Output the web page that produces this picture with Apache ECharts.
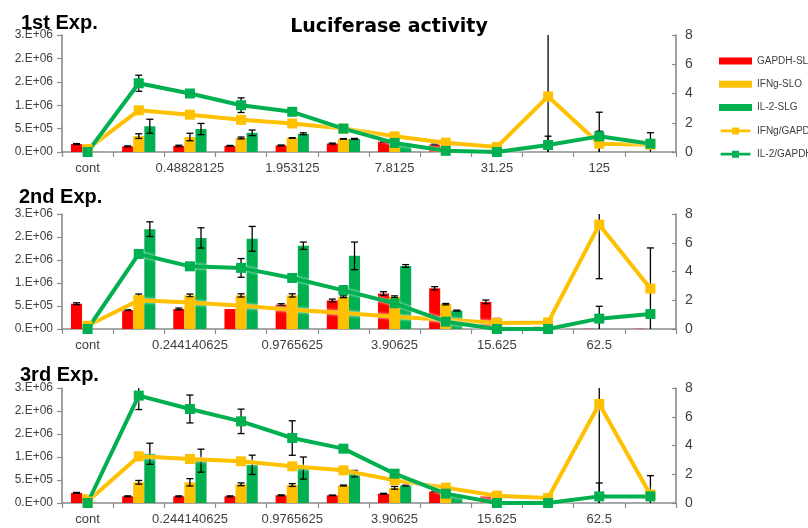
<!DOCTYPE html>
<html>
<head>
<meta charset="utf-8">
<script src="https://cdn.jsdelivr.net/npm/echarts@6/dist/echarts.min.js"></script>
<style>
  html, body { margin: 0; padding: 0; background: #fff; }
  #chart { width: 808px; height: 528px; }
</style>
</head>
<body>
<div id="chart"></div>
<script>
// Dilution series (categories) for each experiment
const categoriesExp1 = ['cont', '0.244140625', '0.48828125', '0.9765625', '1.953125', '3.90625',
  '7.8125', '15.625', '31.25', '62.5', '125', '250'];
const categoriesExp23 = ['cont', '0.1220703125', '0.244140625', '0.48828125', '0.9765625', '1.953125',
  '3.90625', '7.8125', '15.625', '31.25', '62.5', '125'];

// Left axis tick labels (0 .. 2.5E+06, step 5E+05, shown in 0-decimal scientific style)
const leftTickLabels = ['0.E+00', '5.E+05', '1.E+06', '2.E+06', '2.E+06', '3.E+06'];
const rightTickLabels = ['0', '2', '4', '6', '8'];

const seriesNames = ['GAPDH-SLR', 'IFNg-SLO', 'IL-2-SLG', 'IFNg/GAPDH', 'IL-2/GAPDH'];

// ---- 1st Exp. ----
const gapdh1     = [1.7e5, 1.2e5, 1.3e5, 1.3e5, 1.4e5, 1.8e5, 2.2e5, 1.6e5, 0, 0, 0, 0];
const gapdh1Err  = [0.1e5, 0.1e5, 0.15e5, 0.1e5, 0.1e5, 0.1e5, 0.1e5, 0.1e5, 0, 0, 0, 0];
const ifng1      = [1.5e5, 3.4e5, 3.2e5, 3.0e5, 3.0e5, 2.8e5, 1.4e5, 0.3e5, 0, 0, 0, 0];
const ifng1Err   = [0, 0.5e5, 0.8e5, 0.2e5, 0.05e5, 0.05e5, 0, 0, 0, 0, 0, 0];
const il2_1      = [0, 5.5e5, 4.9e5, 4.1e5, 3.9e5, 2.8e5, 1.4e5, 0.3e5, 0, 0, 0, 0];
const il2_1Err   = [0, 1.5e5, 1.2e5, 0.6e5, 0.2e5, 0.1e5, 0, 0, 0, 0, 0, 0];
const ifngRatio1    = [0.2, 2.85, 2.55, 2.2, 1.95, 1.6, 1.07, 0.64, 0.34, 3.8, 0.57, 0.5];
const ifngRatio1Err = [0, 0, 0, 0, 0, 0, 0, 0, 0, 4.5, 0.85, 0];
const il2Ratio1     = [0, 4.7, 4.0, 3.2, 2.75, 1.6, 0.62, 0.08, 0, 0.48, 1.07, 0.57];
const il2Ratio1Err  = [0, 0.55, 0, 0.5, 0, 0, 0, 0, 0, 0.6, 1.65, 0.75];

// ---- 2nd Exp. ----
const gapdh2     = [5.5e5, 4.1e5, 4.35e5, 4.35e5, 5.3e5, 6.2e5, 7.7e5, 8.85e5, 5.9e5, 0.3e5, 0.05e5, 0.05e5];
const gapdh2Err  = [0.2e5, 0.1e5, 0.2e5, 0, 0.2e5, 0.3e5, 0.4e5, 0.35e5, 0.4e5, 0.05e5, 0, 0];
const ifng2      = [0, 7.3e5, 7.3e5, 7.3e5, 7.3e5, 7.0e5, 7.0e5, 5.4e5, 2.2e5, 0, 0, 0];
const ifng2Err   = [0, 0.3e5, 0.3e5, 0.35e5, 0.35e5, 0.2e5, 0.2e5, 0.15e5, 0.1e5, 0, 0, 0];
const il2_2      = [0, 2.17e6, 1.98e6, 1.96e6, 1.81e6, 1.59e6, 1.37e6, 4.0e5, 0, 0, 0, 0];
const il2_2Err   = [0, 1.6e5, 2.2e5, 2.7e5, 0.8e5, 3.0e5, 0.3e5, 0.1e5, 0, 0, 0, 0];
const ifngRatio2    = [0.23, 2.0, 1.85, 1.62, 1.34, 1.11, 0.86, 0.65, 0.42, 0.46, 7.26, 2.81];
const ifngRatio2Err = [0, 0, 0, 0, 0, 0, 0, 0, 0, 0, 3.76, 2.83];
const il2Ratio2     = [0, 5.22, 4.36, 4.25, 3.55, 2.69, 1.79, 0.51, 0, 0, 0.72, 1.04];
const il2Ratio2Err  = [0, 0, 0, 0.65, 0, 0.3, 0, 0, 0, 0, 0.86, 0];

// ---- 3rd Exp. ----
const gapdh3     = [2.2e5, 1.45e5, 1.45e5, 1.45e5, 1.67e5, 1.67e5, 2.0e5, 2.5e5, 1.45e5, 0, 0, 0];
const gapdh3Err  = [0.1e5, 0.1e5, 0.1e5, 0.1e5, 0.1e5, 0.05e5, 0.1e5, 0.05e5, 0, 0, 0, 0];
const ifng3      = [1.9e5, 4.5e5, 4.5e5, 4.06e5, 3.9e5, 3.8e5, 3.3e5, 1.7e5, 0, 0, 0, 0];
const ifng3Err   = [0, 0.4e5, 0.8e5, 0.3e5, 0.3e5, 0.1e5, 0.3e5, 0, 0, 0, 0, 0];
const il2_3      = [0, 1.07e6, 9.2e5, 8.3e5, 7.6e5, 6.4e5, 3.8e5, 1.8e5, 0, 0, 0, 0];
const il2_3Err   = [0, 2.3e5, 2.5e5, 2.1e5, 2.4e5, 0.7e5, 0.1e5, 0, 0, 0, 0, 0];
const ifngRatio3    = [0.1, 3.25, 3.06, 2.9, 2.55, 2.27, 1.58, 1.07, 0.51, 0.35, 6.89, 0.58];
const ifngRatio3Err = [0, 0, 0, 0, 0, 0, 0, 0, 0, 0, 7.0, 0];
const il2Ratio3     = [0, 7.47, 6.54, 5.68, 4.52, 3.78, 2.04, 0.65, 0, 0, 0.46, 0.46];
const il2Ratio3Err  = [0, 0.97, 0.97, 0.85, 1.2, 0, 0, 0, 0, 0, 0.93, 1.44];

const panelTitles = ['1st Exp.', '2nd Exp.', '3rd Exp.'];
const mainTitle = 'Luciferase activity';

const panels = [
  { cats: categoriesExp1, bars: [gapdh1, ifng1, il2_1], barErr: [gapdh1Err, ifng1Err, il2_1Err],
    ratios: [ifngRatio1, il2Ratio1], ratioErr: [ifngRatio1Err, il2Ratio1Err] },
  { cats: categoriesExp23, bars: [gapdh2, ifng2, il2_2], barErr: [gapdh2Err, ifng2Err, il2_2Err],
    ratios: [ifngRatio2, il2Ratio2], ratioErr: [ifngRatio2Err, il2Ratio2Err] },
  { cats: categoriesExp23, bars: [gapdh3, ifng3, il2_3], barErr: [gapdh3Err, ifng3Err, il2_3Err],
    ratios: [ifngRatio3, il2Ratio3], ratioErr: [ifngRatio3Err, il2Ratio3Err] }
];

// ---- styling / layout ----
const barColors = ['#ff0000', '#ffc000', '#00b050'];
const lineColors = ['#ffc000', '#00b050'];
const FONT = '"Liberation Sans", Arial, sans-serif';
const AXIS_GREY = '#8a8a8a';
const TEXT_GREY = '#404040';
const LEFT_MAX = 2.5e6, LEFT_STEP = 5e5;
const RIGHT_MAX = 8, RIGHT_STEP = 2;
const BAR_CAT_GAP = 0.35;
// legend glyph for the ratio lines: a thick stroke with a square marker in the middle
const LINE_ICON = 'path://M0,2.4H13V0H21V2.4H34V5.6H21V8H13V5.6H0Z';

const gridBoxes = [
  { top: 35, height: 117 },
  { top: 214, height: 115 },
  { top: 388, height: 115 }
];

// Error bar drawn through a custom series; barSlot = position inside the bar group (or null for line points)
function makeErrorRenderer(barSlot, axisMax) {
  return function (params, api) {
    const idx = api.value(0);
    const v = api.value(1);
    const e = api.value(2);
    if (!e) return null;
    const hiRaw = v + e, loRaw = v - e;
    const hi = Math.min(hiRaw, axisMax);
    const lo = Math.max(loRaw, 0);
    const band = api.size([1, 0])[0];
    const bw = band * (1 - BAR_CAT_GAP) / 3;
    const dx = barSlot === null ? 0 : (barSlot - 1) * bw;
    const pHi = api.coord([idx, hi]);
    const pLo = api.coord([idx, lo]);
    const x = pHi[0] + dx;
    const cap = 3.5;
    const style = { stroke: '#000', lineWidth: 1.3 };
    const children = [
      { type: 'line', shape: { x1: x, y1: pHi[1], x2: x, y2: pLo[1] }, style: style }
    ];
    if (hiRaw <= axisMax) children.push({ type: 'line', shape: { x1: x - cap, y1: pHi[1], x2: x + cap, y2: pHi[1] }, style: style });
    if (loRaw >= 0) children.push({ type: 'line', shape: { x1: x - cap, y1: pLo[1], x2: x + cap, y2: pLo[1] }, style: style });
    return { type: 'group', children: children };
  };
}

const grids = [], xAxes = [], yAxes = [], series = [];

panels.forEach(function (p, k) {
  grids.push({ left: 62, right: 132, top: gridBoxes[k].top, height: gridBoxes[k].height });

  xAxes.push({
    type: 'category', gridIndex: k, data: p.cats, boundaryGap: true,
    axisLine: { lineStyle: { color: AXIS_GREY, width: 1.6 } },
    axisTick: { show: true, interval: 0, length: 5, lineStyle: { color: AXIS_GREY, width: 1.2 } },
    axisLabel: { interval: 1, color: TEXT_GREY, fontSize: 13, fontFamily: FONT, margin: 10 },
    splitLine: { show: false }
  });

  yAxes.push({
    type: 'value', gridIndex: k, position: 'left', min: 0, max: LEFT_MAX, interval: LEFT_STEP,
    axisLine: { show: true, lineStyle: { color: AXIS_GREY, width: 1.6 } },
    axisTick: { show: true, length: 5, lineStyle: { color: AXIS_GREY, width: 1.2 } },
    axisLabel: {
      color: TEXT_GREY, fontSize: 12, fontFamily: FONT, margin: 9,
      formatter: function (v) { return leftTickLabels[Math.round(v / LEFT_STEP)]; }
    },
    splitLine: { show: false }
  });
  yAxes.push({
    type: 'value', gridIndex: k, position: 'right', min: 0, max: RIGHT_MAX, interval: RIGHT_STEP,
    axisLine: { show: true, lineStyle: { color: AXIS_GREY, width: 1.6 } },
    axisTick: { show: true, inside: true, length: 4, lineStyle: { color: AXIS_GREY, width: 1.2 } },
    axisLabel: {
      color: TEXT_GREY, fontSize: 14, fontFamily: FONT, margin: 9,
      formatter: function (v) { return rightTickLabels[Math.round(v / RIGHT_STEP)]; }
    },
    splitLine: { show: false }
  });

  // bars + their error bars
  p.bars.forEach(function (vals, j) {
    series.push({
      type: 'bar', name: seriesNames[j], xAxisIndex: k, yAxisIndex: 2 * k,
      data: vals, barGap: '0%', barCategoryGap: (BAR_CAT_GAP * 100) + '%',
      itemStyle: { color: barColors[j] }, z: 2, silent: true
    });
    series.push({
      type: 'custom', xAxisIndex: k, yAxisIndex: 2 * k, z: 3, silent: true,
      renderItem: makeErrorRenderer(j, LEFT_MAX),
      encode: { x: 0, y: 1 },
      data: vals.map(function (v, i) { return [i, v, p.barErr[j][i]]; })
    });
  });

  // ratio lines + their error bars
  p.ratios.forEach(function (vals, j) {
    series.push({
      type: 'custom', xAxisIndex: k, yAxisIndex: 2 * k + 1, z: 4, silent: true,
      renderItem: makeErrorRenderer(null, RIGHT_MAX),
      encode: { x: 0, y: 1 },
      data: vals.map(function (v, i) { return [i, v, p.ratioErr[j][i]]; })
    });
    series.push({
      type: 'line', name: seriesNames[3 + j], xAxisIndex: k, yAxisIndex: 2 * k + 1,
      data: vals, symbol: 'rect', symbolSize: 10, showAllSymbol: true,
      lineStyle: { color: lineColors[j], width: 4, shadowColor: 'rgba(255,255,255,0.9)', shadowBlur: 3 },
      itemStyle: { color: lineColors[j] }, z: 5, silent: true, animation: false
    });
  });
});

const titles = [
  { text: mainTitle, left: 384, top: 13, textAlign: 'center',
    textStyle: { fontSize: 19, fontWeight: 'bold', color: '#000', fontFamily: '"DejaVu Sans", sans-serif' } }
];
const titlePos = [{ left: 16, top: 8 }, { left: 14, top: 182 }, { left: 15, top: 360 }];
panelTitles.forEach(function (t, k) {
  titles.push({ text: t, left: titlePos[k].left, top: titlePos[k].top,
    textStyle: { fontSize: 20, fontWeight: 'bold', color: '#000', fontFamily: FONT } });
});

const chart = echarts.init(document.getElementById('chart'), null, { renderer: 'canvas' });
chart.setOption({
  animation: false,
  backgroundColor: '#fff',
  title: titles,
  legend: {
    orient: 'vertical', left: 714, top: 49,
    itemWidth: 33, itemHeight: 7, itemGap: 9.3,
    textStyle: { fontSize: 10, color: TEXT_GREY, fontFamily: FONT, lineHeight: 14 },
    data: [
      { name: seriesNames[0], icon: 'rect' },
      { name: seriesNames[1], icon: 'rect' },
      { name: seriesNames[2], icon: 'rect' },
      { name: seriesNames[3], icon: LINE_ICON },
      { name: seriesNames[4], icon: LINE_ICON }
    ],
    selectedMode: false
  },
  grid: grids,
  xAxis: xAxes,
  yAxis: yAxes,
  series: series
});
</script>
</body>
</html>
